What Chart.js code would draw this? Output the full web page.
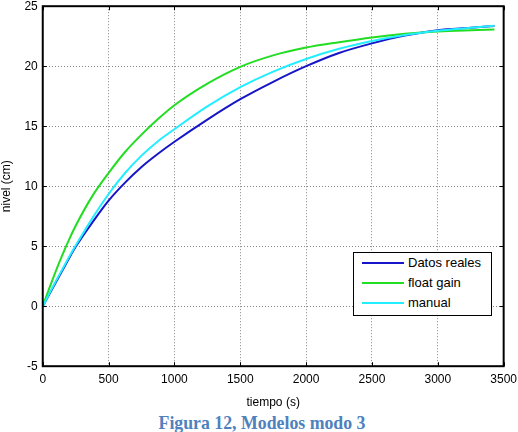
<!DOCTYPE html>
<html>
<head>
<meta charset="utf-8">
<script src="https://cdn.jsdelivr.net/npm/chart.js@4"></script>
<style>
  body { margin: 0; background: #fff; }
  #wrap { position: relative; width: 518px; height: 432px; overflow: hidden; }
  #chart { position: absolute; left: -3px; top: -6px; }
  #legend {
    position: absolute; left: 353px; top: 252px; width: 137px; height: 62px;
    border: 1px solid #000; background: #fff;
    font: 13px "Liberation Sans", Arial, sans-serif; color: #000;
  }
  #legend div { position: relative; height: 20px; line-height: 20px; padding-left: 54px; }
  #legend span { position: absolute; left: 8px; top: 9px; width: 42px; height: 2px; }
  #caption {
    position: absolute; left: 0; top: 413px; width: 524px; text-align: center;
    font: bold 17.8px "Liberation Serif", "Times New Roman", serif; color: #4F81BD;
  }
</style>
</head>
<body>
<div id="wrap">
  <canvas id="chart" width="526" height="416"></canvas>
  <div id="legend"></div>
  <div id="caption">Figura 12, Modelos modo 3</div>
</div>
<script>
const tiempo =      [0, 50,   100, 150, 200,  250,  375,  500,  625,  750,   875,   1000,  1250,  1500,  1750, 2000,  2250,  2500, 2750,  3000,  3250, 3430];
const datosReales = [0, 1.0,  2.0, 3.0, 4.0,  4.95, 6.95, 8.8,  10.3, 11.6,  12.7,  13.7,  15.55, 17.25, 18.7, 20.0,  21.1,  21.9, 22.55, 23.0,  23.2, 23.35];
const floatGain =   [0, 1.5,  2.95, 4.3, 5.55, 6.7, 9.15, 11.1, 12.85, 14.3, 15.6,  16.75, 18.55, 19.95, 20.9, 21.55, 22.0,  22.4, 22.7,  22.9,  23.0, 23.05];
const manual =      [0, 1.05, 2.1, 3.1, 4.1,  5.05, 7.3,  9.35, 11.1, 12.55, 13.75, 14.75, 16.65, 18.25, 19.55, 20.6, 21.45, 22.1, 22.6,  22.95, 23.2, 23.38];

const xTicks = [0, 500, 1000, 1500, 2000, 2500, 3000, 3500];
const yTicks = [-5, 0, 5, 10, 15, 20, 25];

const series = [
  { label: 'Datos reales', data: datosReales, color: '#1616C8', order: 3 },
  { label: 'float gain', data: floatGain, color: '#22DD22', order: 2 },
  { label: 'manual', data: manual, color: '#22EEFF', order: 1 }
];

const legendEl = document.getElementById('legend');
series.forEach(s => {
  const row = document.createElement('div');
  row.innerHTML = '<span style="background:' + s.color + '"></span>' + s.label;
  legendEl.appendChild(row);
});

// marco negro y ticks hacia dentro, estilo MATLAB
const frame = {
  id: 'frame',
  afterDraw(chart) {
    const { ctx, chartArea: a, scales } = chart;
    ctx.save();
    ctx.strokeStyle = '#000';
    ctx.lineWidth = 1;
    xTicks.forEach(v => {
      const x = Math.round(scales.x.getPixelForValue(v)) + 0.5;
      ctx.beginPath();
      ctx.moveTo(x, a.bottom); ctx.lineTo(x, a.bottom - 4);
      ctx.moveTo(x, a.top); ctx.lineTo(x, a.top + 4);
      ctx.stroke();
    });
    yTicks.forEach(v => {
      const y = Math.round(scales.y.getPixelForValue(v)) + 0.5;
      ctx.beginPath();
      ctx.moveTo(a.left, y); ctx.lineTo(a.left + 4, y);
      ctx.moveTo(a.right, y); ctx.lineTo(a.right - 4, y);
      ctx.stroke();
    });
    ctx.lineWidth = 2;
    ctx.strokeRect(a.left, a.top, a.right - a.left, a.bottom - a.top);
    ctx.restore();
  }
};

const font = { family: '"Liberation Sans", Arial, sans-serif', size: 12 };

new Chart(document.getElementById('chart').getContext('2d'), {
  type: 'line',
  data: {
    datasets: series.map(s => ({
      label: s.label,
      data: tiempo.map((t, i) => ({ x: t, y: s.data[i] })),
      borderColor: s.color,
      backgroundColor: s.color,
      borderWidth: 2,
      pointRadius: 0,
      cubicInterpolationMode: 'monotone',
      order: s.order
    }))
  },
  options: {
    responsive: false,
    animation: false,
    layout: { padding: { left: 2, right: 0, top: 0, bottom: 0 } },
    plugins: {
      legend: { display: false },
      tooltip: { enabled: false }
    },
    scales: {
      x: {
        type: 'linear',
        min: 0,
        max: 3500,
        afterBuildTicks: axis => { axis.ticks = xTicks.map(v => ({ value: v })); },
        ticks: { color: '#000', font: font, padding: 6, maxRotation: 0, callback: v => String(v) },
        grid: { color: '#888', lineWidth: 1, drawTicks: false },
        border: { display: false, dash: [1, 2] },
        title: { display: true, text: 'tiempo (s)', color: '#000', font: font, padding: { top: 3, bottom: 0 } }
      },
      y: {
        type: 'linear',
        min: -5,
        max: 25,
        afterBuildTicks: axis => { axis.ticks = yTicks.map(v => ({ value: v })); },
        ticks: { color: '#000', font: font, padding: 5, callback: v => String(v) },
        grid: { color: '#888', lineWidth: 1, drawTicks: false },
        border: { display: false, dash: [1, 2] },
        title: { display: true, text: 'nivel (cm)', color: '#000', font: font, padding: { top: 0, bottom: 6 } }
      }
    }
  },
  plugins: [frame]
});
</script>
</body>
</html>
